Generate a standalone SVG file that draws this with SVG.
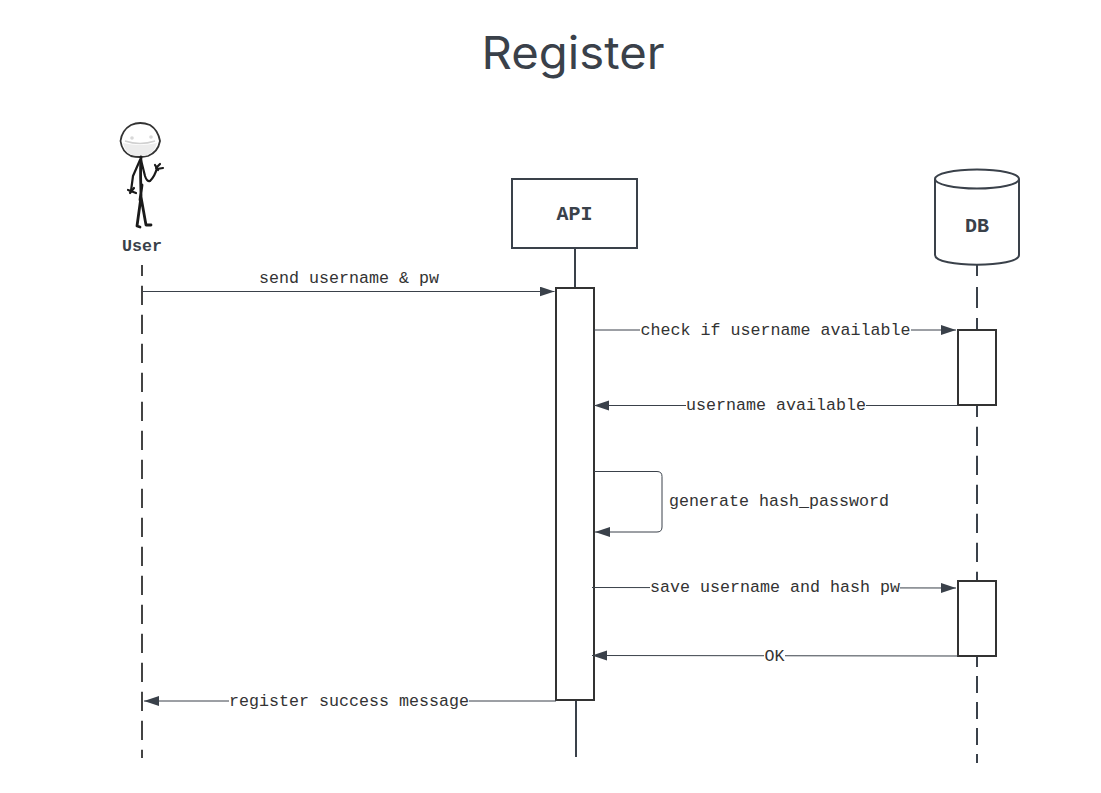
<svg xmlns="http://www.w3.org/2000/svg" width="1101" height="793" viewBox="0 0 1101 793">
<style>
.lbl{font-family:"Liberation Mono",monospace;font-size:16.67px;fill:#333;text-anchor:middle}
.name{font-family:"Liberation Mono",monospace;font-weight:bold;fill:#3a414a;text-anchor:middle}
.box{fill:#fff;stroke:#3a414a;stroke-width:2}
.act{fill:#fff;stroke:#333;stroke-width:2}
.life{fill:none;stroke:#3a414a;stroke-width:2}
.u{stroke:#444;stroke-dasharray:19.300 9.700;stroke-dashoffset:8.300}
.d1{stroke-dasharray:11 11 21 10 12}
.d2{stroke-dasharray:19.300 9.700;stroke-dashoffset:7.300}
.d3{stroke-dasharray:17 9;stroke-dashoffset:6}
.msg{fill:none;stroke:#3a414a;stroke-width:1}
.sk{fill:none;stroke:#1a1a1a;stroke-width:2.200;stroke-linecap:round;stroke-linejoin:round}
.bg{fill:#fff}
</style>
<defs>
<marker id="arr" markerUnits="userSpaceOnUse" markerWidth="16" markerHeight="12" refX="15" refY="5" orient="auto"><path d="M0 0L15 5L0 10Z" fill="#3a414a"/></marker>
</defs>
<text id="title" x="573" y="69" font-family="Inter,sans-serif" font-size="45" fill="#3a414a" text-anchor="middle" textLength="183" lengthAdjust="spacingAndGlyphs">Register</text>
<g id="lifelines">
<path class="life u" d="M142 265V758"/>
<path class="life" d="M575 248V288M576 700V757"/>
<path class="life d1" d="M977 265V330"/>
<path class="life d2" d="M977 405V581"/>
<path class="life d3" d="M977 656V763"/>
</g>
<g id="user">
<path d="M131 125Q140 121 150 125Q158 130 160 141Q158 152 148 156Q140 158 131 156Q122 152 120.500 141Q122 130 131 125Z" fill="#fff" stroke="#333" stroke-width="1.800"/>
<path d="M123 143Q140 147 157 143Q155 152 147 155Q140 157 132 155Q125 152 123 143Z" fill="#ececec"/>
<path d="M125 141Q140 146 155 141" fill="none" stroke="#d0d0d0" stroke-width="1.500"/>
<circle cx="132" cy="138" r="1.800" fill="#d8d8d8"/><circle cx="151" cy="137" r="1.800" fill="#d8d8d8"/>
<path class="sk" stroke-width="2.800" style="stroke-width:2.800" d="M141 157C140 172 141 185 141 197L137 226L140 227M141 197L146 225H151M142 185L140 200"/>
<path class="sk" d="M140 160L133 176L131 191M141 160L145 176Q147 182 150 181Q155 176 157 168"/>
<path class="sk" d="M156 168L160 164M157 169L163 168M155 165L158 170M128 190L136 193M130 193L134 188"/>
<text class="name" x="142" y="251" font-size="16.67">User</text>
</g>
<g id="api">
<rect class="box" x="512" y="179" width="125" height="69"/>
<text class="name" x="574.500" y="219.500" font-size="20">API</text>
</g>
<g id="db">
<path class="box" d="M935 179V255C935 268 1019 268 1019 255V179"/>
<ellipse class="box" cx="977" cy="179" rx="42" ry="9.500"/>
<text class="name" x="977" y="232" font-size="20">DB</text>
</g>
<g id="api-activation"><rect class="act" x="556" y="288" width="38" height="412"/></g>
<g id="db-activation-1"><rect class="act" x="958" y="330" width="38" height="75"/></g>
<g id="db-activation-2"><rect class="act" x="958" y="581" width="38" height="75"/></g>
<g id="connectors">
<path class="msg" marker-end="url(#arr)" d="M143 291.500H554.500"/>
<path class="msg" marker-end="url(#arr)" d="M594 330H956"/>
<path class="msg" marker-end="url(#arr)" d="M958 405.500H594"/>
<path class="msg" marker-end="url(#arr)" d="M594 471.500H657Q662 471.500 662 476.500V527Q662 532 657 532H595"/>
<path class="msg" marker-end="url(#arr)" d="M592 587.500L956 588"/>
<path class="msg" marker-end="url(#arr)" d="M958 656L592 655.500"/>
<path class="msg" marker-end="url(#arr)" d="M556 701H144"/>
</g>
<g id="labels">
<text class="lbl" x="349" y="283">send username &amp; pw</text>
<rect class="bg" x="640" y="322" width="271" height="16"/>
<text class="lbl" x="775.500" y="335">check if username available</text>
<rect class="bg" x="686" y="397" width="180" height="16"/>
<text class="lbl" x="776" y="410">username available</text>
<text class="lbl" x="779" y="506">generate hash_password</text>
<rect class="bg" x="650" y="579" width="250" height="16"/>
<text class="lbl" x="775" y="592">save username and hash pw</text>
<rect class="bg" x="764" y="648" width="21" height="16"/>
<text class="lbl" x="774.500" y="661">OK</text>
<rect class="bg" x="229" y="693" width="240" height="16"/>
<text class="lbl" x="349" y="706">register success message</text>
</g>
</svg>
